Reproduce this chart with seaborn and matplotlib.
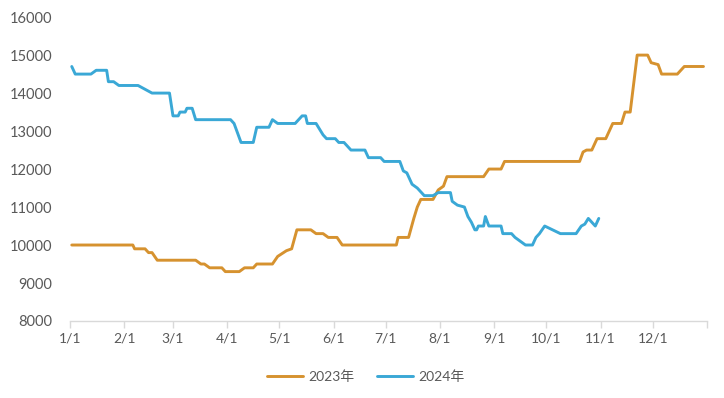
import pandas as pd
import seaborn as sns
import matplotlib.pyplot as plt
import matplotlib.dates as mdates
from matplotlib.ticker import FuncFormatter


# month/day breakpoints, both years drawn on one calendar axis
dates_2023 = ["1/2", "2/6", "2/7", "2/13", "2/15", "2/17", "2/20", "3/14", "3/17", "3/19",
              "3/22", "3/29", "3/31", "4/8", "4/11", "4/16", "4/18", "4/27", "4/30", "5/5",
              "5/8", "5/11", "5/19", "5/22", "5/26", "5/29", "6/3", "6/6", "7/7", "7/8",
              "7/14", "7/17", "7/19", "7/21", "7/28", "7/31", "8/3", "8/5", "8/26", "8/29",
              "9/5", "9/7", "10/20", "10/22", "10/24", "10/27", "10/30", "11/4", "11/6", "11/8",
              "11/13", "11/15", "11/18", "11/22", "11/28", "11/30", "12/4", "12/6", "12/15", "12/19",
              "12/30"]
price_2023 = [10000, 10000, 9900, 9900, 9800, 9800, 9600, 9600, 9500, 9500,
              9400, 9400, 9300, 9300, 9400, 9400, 9500, 9500, 9700, 9850,
              9900, 10400, 10400, 10300, 10300, 10200, 10200, 10000, 10000, 10200,
              10200, 10700, 11000, 11200, 11200, 11450, 11550, 11800, 11800, 12000,
              12000, 12200, 12200, 12450, 12500, 12500, 12800, 12800, 13000, 13200,
              13200, 13500, 13500, 15000, 15000, 14800, 14750, 14500, 14500, 14700,
              14700]

dates_2024 = ["1/2", "1/4", "1/13", "1/16", "1/22", "1/23", "1/26", "1/29", "2/9", "2/17",
              "2/27", "3/1", "3/4", "3/5", "3/8", "3/9", "3/12", "3/14", "4/3", "4/5",
              "4/9", "4/16", "4/18", "4/25", "4/27", "4/30", "5/10", "5/14", "5/16", "5/17",
              "5/22", "5/26", "5/28", "6/2", "6/4", "6/7", "6/9", "6/11", "6/19", "6/21",
              "6/28", "6/30", "7/9", "7/11", "7/13", "7/16", "7/19", "7/23", "7/28", "7/31",
              "8/7", "8/8", "8/11", "8/15", "8/17", "8/19", "8/21", "8/22", "8/23", "8/26",
              "8/27", "8/29", "9/5", "9/6", "9/11", "9/13", "9/19", "9/23", "9/25", "9/27",
              "9/30", "10/9", "10/18", "10/21", "10/23", "10/25", "10/27", "10/29", "10/31"]
price_2024 = [14700, 14500, 14500, 14600, 14600, 14300, 14300, 14200, 14200, 14000,
              14000, 13400, 13400, 13500, 13500, 13600, 13600, 13300, 13300, 13200,
              12700, 12700, 13100, 13100, 13300, 13200, 13200, 13400, 13400, 13200,
              13200, 12900, 12800, 12800, 12700, 12700, 12600, 12500, 12500, 12300,
              12300, 12200, 12200, 11950, 11900, 11600, 11500, 11300, 11300, 11380,
              11380, 11150, 11050, 11000, 10750, 10600, 10400, 10400, 10500, 10500,
              10750, 10500, 10500, 10300, 10300, 10200, 10000, 10000, 10200, 10300,
              10500, 10300, 10300, 10500, 10550, 10700, 10600, 10500, 10700]

series_names = ["2023年", "2024年"]
colors = ["#D6922F", "#3AA8D6"]


def to_axis_date(md):
    return pd.Timestamp(f"2023/{md}")


df = pd.concat([
    pd.DataFrame({"date": [to_axis_date(d) for d in dates_2023], "price": price_2023, "year": series_names[0]}),
    pd.DataFrame({"date": [to_axis_date(d) for d in dates_2024], "price": price_2024, "year": series_names[1]}),
])

sns.set_style("white")
plt.rcParams["font.family"] = ["Lato", "Noto Sans CJK SC", "DejaVu Sans"]

fig = plt.figure(figsize=(7.24, 3.98), dpi=100)
ax = fig.add_axes([0.0967, 0.1935, 0.8798, 0.7635])

sns.lineplot(data=df, x="date", y="price", hue="year", palette=colors,
             linewidth=2.1, ax=ax, legend=False, estimator=None, sort=False)

ax.set_xlim(pd.Timestamp("2023-01-01"), pd.Timestamp("2024-01-01"))
ax.set_ylim(8000, 16000)
ax.set_yticks(range(8000, 16001, 1000))

ax.xaxis.set_major_locator(mdates.MonthLocator())


def month_label(x, pos):
    d = mdates.num2date(x)
    return "" if d.year > 2023 else f"{d.month}/{d.day}"


ax.xaxis.set_major_formatter(FuncFormatter(month_label))

for side in ["top", "right", "left"]:
    ax.spines[side].set_visible(False)
ax.spines["bottom"].set_color("#D9D9D9")
ax.spines["bottom"].set_linewidth(1.0)

ax.tick_params(axis="x", colors="#595959", labelsize=10, length=5, width=1.0,
               direction="out", pad=3, bottom=True)
ax.tick_params(axis="x", color="#D9D9D9")
ax.tick_params(axis="y", colors="#595959", labelsize=10.5, length=0, pad=13)
ax.set_xlabel("")
ax.set_ylabel("")

handles = [plt.Line2D([], [], color=c, linewidth=2.1) for c in colors]
fig.legend(handles, series_names, loc="center", bbox_to_anchor=(0.505, 0.053), ncol=2,
           frameon=False, fontsize=10, labelcolor="#595959", handlelength=2.6,
           handletextpad=0.4, columnspacing=1.6)

fig.savefig("out.png", dpi=100)
